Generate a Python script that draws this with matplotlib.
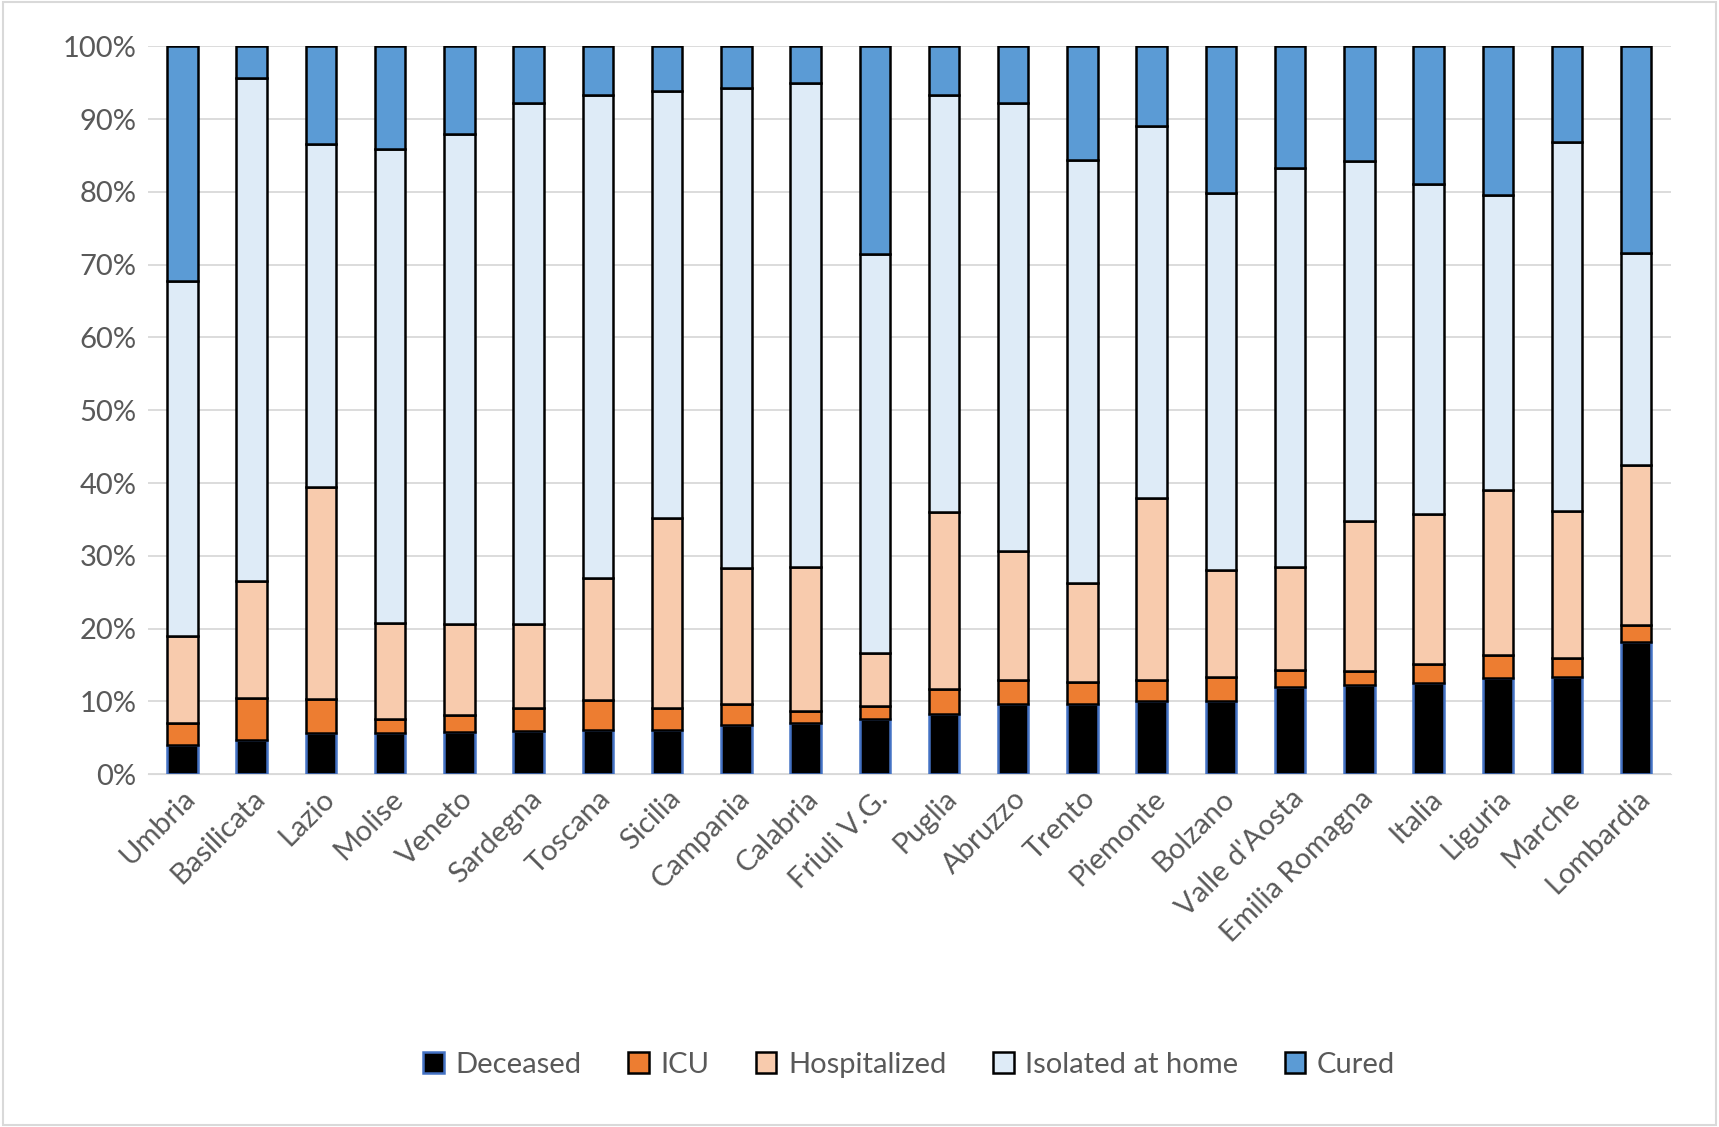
import numpy as np
import matplotlib.pyplot as plt
from matplotlib.ticker import PercentFormatter

plt.rcParams['font.family'] = ['Lato', 'DejaVu Sans']

regions = ["Umbria", "Basilicata", "Lazio", "Molise", "Veneto", "Sardegna", "Toscana",
           "Sicilia", "Campania", "Calabria", "Friuli V.G.", "Puglia", "Abruzzo", "Trento",
           "Piemonte", "Bolzano", "Valle d'Aosta", "Emilia Romagna", "Italia", "Liguria",
           "Marche", "Lombardia"]
# cumulative tops (%)
top_deceased = [4.0, 4.7, 5.7, 5.7, 5.8, 6.0, 6.1, 6.1, 6.7, 7.0, 7.6, 8.3, 9.6, 9.7, 10.0, 10.0, 12.0, 12.3, 12.6, 13.2, 13.4, 18.2]
top_icu = [7.0, 10.5, 10.3, 7.6, 8.2, 9.1, 10.2, 9.1, 9.7, 8.7, 9.4, 11.7, 12.9, 12.7, 12.9, 13.4, 14.3, 14.2, 15.2, 16.4, 16.0, 20.5]
top_hosp = [19.0, 26.5, 39.4, 20.8, 20.7, 20.7, 26.9, 35.2, 28.3, 28.4, 16.7, 36.0, 30.7, 26.3, 38.0, 28.0, 28.4, 34.8, 35.7, 39.0, 36.1, 42.5]
top_iso = [67.8, 95.6, 86.6, 85.9, 87.9, 92.2, 93.3, 93.9, 94.3, 94.9, 71.5, 93.3, 92.2, 84.4, 89.1, 79.8, 83.3, 84.2, 81.1, 79.5, 86.8, 71.6]

tops = np.array([top_deceased, top_icu, top_hosp, top_iso, [100.0] * len(regions)])
names = ["Deceased", "ICU", "Hospitalized", "Isolated at home", "Cured"]
colors = ["#000000", "#ED7D31", "#F8CBAD", "#DEEBF7", "#5B9BD5"]
edges = ["#4472C4", "black", "black", "black", "black"]

fig = plt.figure(figsize=(17.19, 11.27), dpi=100)
ax = fig.add_axes([0.086, 0.313, 0.886, 0.646])
x = np.arange(len(regions))
bottom = np.zeros(len(regions))
for i in range(5):
    h = tops[i] - bottom
    ax.bar(x, h, bottom=bottom, width=0.44, color=colors[i], edgecolor=edges[i],
           linewidth=1.8, label=names[i], zorder=3)
    bottom = tops[i].copy()

ax.set_ylim(0, 100)
ax.set_xlim(-0.5, len(regions) - 0.5)
ax.set_yticks(np.arange(0, 101, 10))
ax.yaxis.set_major_formatter(PercentFormatter(decimals=0))
ax.grid(axis="y", color="#D9D9D9", linewidth=1.3, zorder=0)
for s in ["top", "right", "left"]:
    ax.spines[s].set_visible(False)
ax.spines["bottom"].set_color("#D9D9D9")
ax.tick_params(length=0, labelsize=21, colors="#595959", pad=8)
ax.set_xticks(x)
ax.set_xticklabels(regions, rotation=45, ha="right", rotation_mode="anchor")

ax.legend(loc="upper center", bbox_to_anchor=(0.5, -0.345), ncol=5, frameon=False,
          fontsize=21, labelcolor="#595959", handlelength=0.7, handleheight=0.7,
          columnspacing=1.6, handletextpad=0.4)
fig.patches.append(plt.Rectangle((0.002, 0.002), 0.996, 0.996, transform=fig.transFigure,
                                 fill=False, edgecolor="#D9D9D9", linewidth=1.5))
plt.savefig("out.png", dpi=100)
